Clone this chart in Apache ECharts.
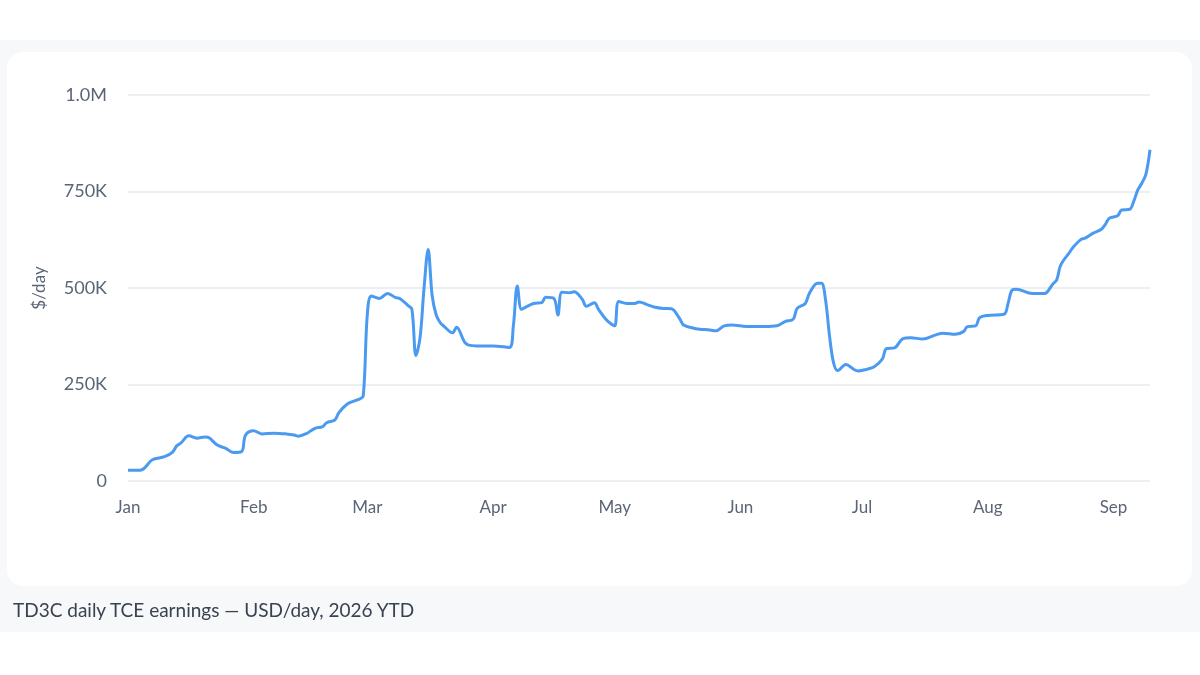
<!DOCTYPE html>
<html>
<head>
<meta charset="utf-8">
<script src="https://cdn.jsdelivr.net/npm/echarts@6/dist/echarts.min.js"></script>
<style>
  html, body { margin: 0; padding: 0; width: 1200px; height: 675px; background: #ffffff; overflow: hidden; }
  #panel { position: absolute; left: 0; top: 40px; width: 1200px; height: 592px; background: #f6f8fa; }
  #card { position: absolute; left: 7px; top: 52px; width: 1185px; height: 534px; background: #ffffff; border-radius: 16px; }
  #chart { position: absolute; left: 0; top: 0; width: 1200px; height: 675px; }
  #caption { position: absolute; left: 13px; top: 598px; font-family: Lato, "Noto Sans", sans-serif; font-size: 19px; color: #3a4250; }
</style>
</head>
<body>
<div id="panel"></div>
<div id="card"></div>
<div id="chart"></div>
<div id="caption">TD3C daily TCE earnings — USD/day, 2026 YTD</div>
<script>
// dates and USD/day values
const dates = [
  '2026-01-01','2026-01-04','2026-01-05','2026-01-07','2026-01-10','2026-01-12','2026-01-13','2026-01-14',
  '2026-01-16','2026-01-18','2026-01-20','2026-01-21','2026-01-23','2026-01-25','2026-01-27','2026-01-29',
  '2026-01-30','2026-02-01','2026-02-03','2026-02-06','2026-02-09','2026-02-11','2026-02-12','2026-02-14',
  '2026-02-16','2026-02-18','2026-02-19','2026-02-21','2026-02-22','2026-02-24','2026-02-26','2026-02-27',
  '2026-02-28','2026-03-01','2026-03-02','2026-03-04','2026-03-06','2026-03-08','2026-03-09','2026-03-11',
  '2026-03-12','2026-03-13','2026-03-14','2026-03-15','2026-03-16','2026-03-17','2026-03-18','2026-03-19',
  '2026-03-20','2026-03-22','2026-03-23','2026-03-25','2026-03-26','2026-03-28','2026-04-01','2026-04-05',
  '2026-04-06','2026-04-07','2026-04-08','2026-04-09','2026-04-11','2026-04-13','2026-04-14','2026-04-16',
  '2026-04-17','2026-04-18','2026-04-20','2026-04-21','2026-04-23','2026-04-24','2026-04-26','2026-04-27',
  '2026-04-29','2026-04-30','2026-05-01','2026-05-02','2026-05-04','2026-05-06','2026-05-07','2026-05-09',
  '2026-05-11','2026-05-13','2026-05-15','2026-05-17','2026-05-18','2026-05-20','2026-05-22','2026-05-24',
  '2026-05-26','2026-05-28','2026-05-30','2026-06-01','2026-06-03','2026-06-07','2026-06-10','2026-06-12',
  '2026-06-14','2026-06-15','2026-06-17','2026-06-18','2026-06-20','2026-06-21','2026-06-22','2026-06-23',
  '2026-06-24','2026-06-25','2026-06-27','2026-06-29','2026-06-30','2026-07-02','2026-07-04','2026-07-06',
  '2026-07-07','2026-07-09','2026-07-11','2026-07-13','2026-07-16','2026-07-19','2026-07-21','2026-07-24',
  '2026-07-26','2026-07-27','2026-07-29','2026-07-30','2026-08-01','2026-08-05','2026-08-06','2026-08-07',
  '2026-08-08','2026-08-12','2026-08-15','2026-08-17','2026-08-18','2026-08-19','2026-08-21','2026-08-22',
  '2026-08-24','2026-08-25','2026-08-27','2026-08-29','2026-08-30','2026-08-31','2026-09-02','2026-09-03',
  '2026-09-05','2026-09-06','2026-09-07','2026-09-08','2026-09-09','2026-09-10'
];
const earnings = [
  28000, 28000, 33000, 55000, 63000, 75000, 91000, 98000,
  117000, 111000, 114000, 112000, 93000, 85000, 74000, 76000,
  119000, 130000, 122000, 124000, 122000, 119000, 116000, 123000,
  136000, 141000, 151000, 158000, 177000, 199000, 208000, 212000,
  220000, 430000, 479000, 473000, 486000, 475000, 473000, 455000,
  445000, 325000, 370000, 500000, 600000, 480000, 430000, 410000,
  400000, 384000, 398000, 360000, 352000, 350000, 350000, 346000,
  400000, 505000, 445000, 450000, 460000, 462000, 476000, 473000,
  430000, 489000, 488000, 490000, 471000, 453000, 462000, 445000,
  417000, 408000, 402000, 465000, 460000, 460000, 464000, 457000,
  450000, 447000, 446000, 421000, 404000, 397000, 393000, 392000,
  389000, 402000, 404000, 402000, 400000, 400000, 402000, 413000,
  419000, 447000, 460000, 486000, 512000, 512000, 469000, 374000,
  305000, 286000, 302000, 289000, 285000, 289000, 296000, 316000,
  343000, 345000, 368000, 371000, 368000, 378000, 383000, 380000,
  387000, 400000, 402000, 423000, 429000, 432000, 460000, 495000,
  497000, 486000, 486000, 510000, 521000, 560000, 590000, 605000,
  626000, 629000, 642000, 652000, 665000, 681000, 687000, 702000,
  704000, 725000, 754000, 772000, 795000, 858000
];
const monthLabels = ['Jan','Feb','Mar','Apr','May','Jun','Jul','Aug','Sep','Oct','Nov','Dec'];
const yTicks = [0, 250000, 500000, 750000, 1000000];
const yTickLabels = ['0', '250K', '500K', '750K', '1.0M'];

function toTime(s) {
  const p = s.split('-').map(Number);
  return new Date(p[0], p[1] - 1, p[2]).getTime();
}

const DAY = 86400000;
const chart = echarts.init(document.getElementById('chart'), null, { renderer: 'canvas' });

chart.setOption({
  animation: false,
  backgroundColor: 'transparent',
  textStyle: { fontFamily: 'Lato, "Noto Sans", sans-serif' },
  grid: { left: 128, right: 50, top: 95, bottom: 194 },
  xAxis: {
    type: 'time',
    min: toTime(dates[0]),
    max: toTime(dates[dates.length - 1]),
    minInterval: 28 * DAY,
    maxInterval: 31 * DAY,
    axisLine: { show: false },
    axisTick: { show: false },
    splitLine: { show: false },
    axisLabel: {
      color: '#5b6577',
      fontSize: 17,
      margin: 18,
      hideOverlap: false,
      formatter: function (val) {
        const d = new Date(val);
        return d.getDate() === 1 ? monthLabels[d.getMonth()] : '';
      }
    }
  },
  yAxis: {
    type: 'value',
    min: 0,
    max: 1000000,
    interval: 250000,
    name: '$/day',
    nameLocation: 'middle',
    nameGap: 80,
    nameTextStyle: { color: '#5b6577', fontSize: 17 },
    axisLine: { show: false },
    axisTick: { show: false },
    splitLine: { lineStyle: { color: '#e4e8ee', width: 1.5 } },
    axisLabel: {
      color: '#5b6577',
      fontSize: 18,
      margin: 21,
      formatter: function (val) {
        const i = yTicks.indexOf(val);
        return i >= 0 ? yTickLabels[i] : '';
      }
    }
  },
  series: [{
    type: 'line',
    data: dates.map((d, i) => [toTime(d), earnings[i]]),
    showSymbol: false,
    smooth: 0.35,
    lineStyle: { color: '#4a9af2', width: 3 },
    itemStyle: { color: '#4a9af2' }
  }]
});
</script>
</body>
</html>
